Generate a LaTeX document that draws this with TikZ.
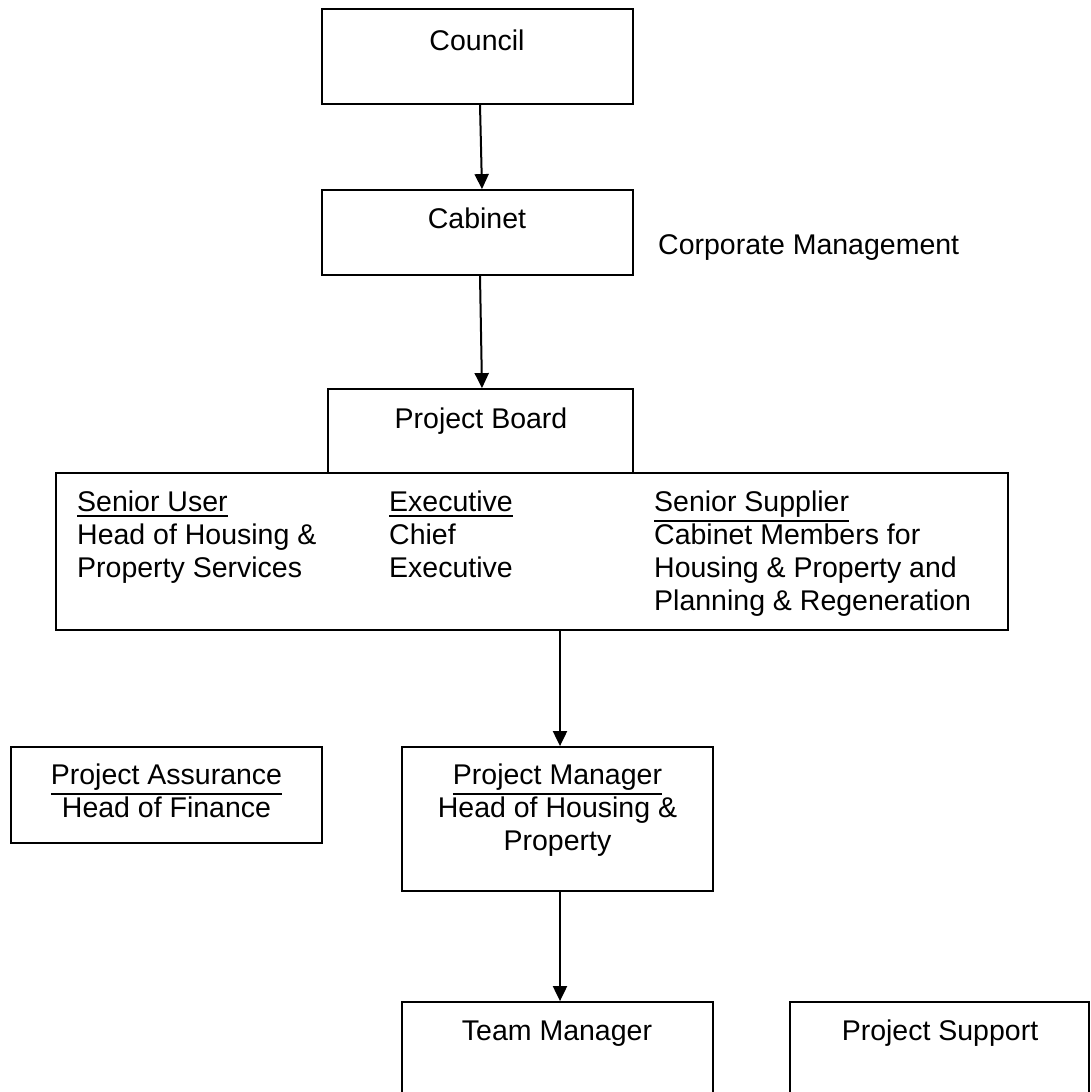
\documentclass[tikz,border=0pt]{standalone}
\usepackage{fontspec}
\setmainfont{Liberation Sans}
\usetikzlibrary{arrows.meta}

\newcommand{\orgul}[1]{\leavevmode\vtop{\hbox{#1}\kern2.5pt\hrule height 2pt}}

\begin{document}
\begin{tikzpicture}[x=1pt,y=-1pt]
  \tikzset{orgbox/.style={draw=black,line width=1.8pt,inner sep=0pt}}
  \tikzset{orgtext/.style={font=\fontsize{28.5}{33}\selectfont,inner sep=0pt,text=black}}
  \tikzset{orgarrow/.style={draw=black,line width=2pt,-{Triangle[length=15pt,width=14pt]}}}

  \clip (0,0) rectangle (1091,1092);

  \node[orgbox,minimum width=311,minimum height=95] (council) at (477.5,56.5) {};
  \node[orgbox,minimum width=311,minimum height=85] (cabinet) at (477.5,232.5) {};
  \node[orgbox,minimum width=305,minimum height=84] (board) at (480.5,431) {};
  \node[orgbox,minimum width=952,minimum height=157] (bigbox) at (532,551.5) {};
  \node[orgbox,minimum width=311,minimum height=96] (assurance) at (166.5,795) {};
  \node[orgbox,minimum width=311,minimum height=144] (manager) at (557.5,819) {};
  \node[orgbox,minimum width=311,minimum height=100] (team) at (557.5,1052) {};
  \node[orgbox,minimum width=299,minimum height=100] (support) at (939.5,1052) {};

  \node[orgtext,anchor=base] (councillabel) at (477,50) {Council};
  \node[orgtext,anchor=base] (cabinetlabel) at (477,228) {Cabinet};
  \node[orgtext,anchor=base west] (corplabel) at (658,254) {Corporate Management};
  \node[orgtext,anchor=base] (boardlabel) at (481,428) {Project Board};

  \node[orgtext,anchor=north west,align=left] (userlabel) at (77,491)
    {\orgul{Senior User}\\Head of Housing \&\\Property Services};
  \node[orgtext,anchor=north west,align=left] (execlabel) at (389,491)
    {\orgul{Executive}\\Chief\\Executive};
  \node[orgtext,anchor=north west,align=left] (supplierlabel) at (654,491)
    {\orgul{Senior Supplier}\\Cabinet Members for\\Housing \& Property and\\Planning \& Regeneration};

  \node[orgtext,anchor=north,align=center] (assurancelabel) at (166.5,764)
    {\orgul{Project Assurance}\\Head of Finance};
  \node[orgtext,anchor=north,align=center] (managerlabel) at (557.5,764)
    {\orgul{Project Manager}\\Head of Housing \&\\Property};
  \node[orgtext,anchor=base] (teamlabel) at (557,1040) {Team Manager};
  \node[orgtext,anchor=base] (supportlabel) at (940,1040) {Project Support};

  \draw[orgarrow] ([xshift=2.5]council.south) -- ([xshift=4.5]cabinet.north);
  \draw[orgarrow] ([xshift=2.5]cabinet.south) -- ([xshift=1.5]board.north);
  \draw[orgarrow] ([xshift=28]bigbox.south) -- ([xshift=2.5]manager.north);
  \draw[orgarrow] ([xshift=2.5]manager.south) -- ([xshift=2.5]team.north);
\end{tikzpicture}
\end{document}
